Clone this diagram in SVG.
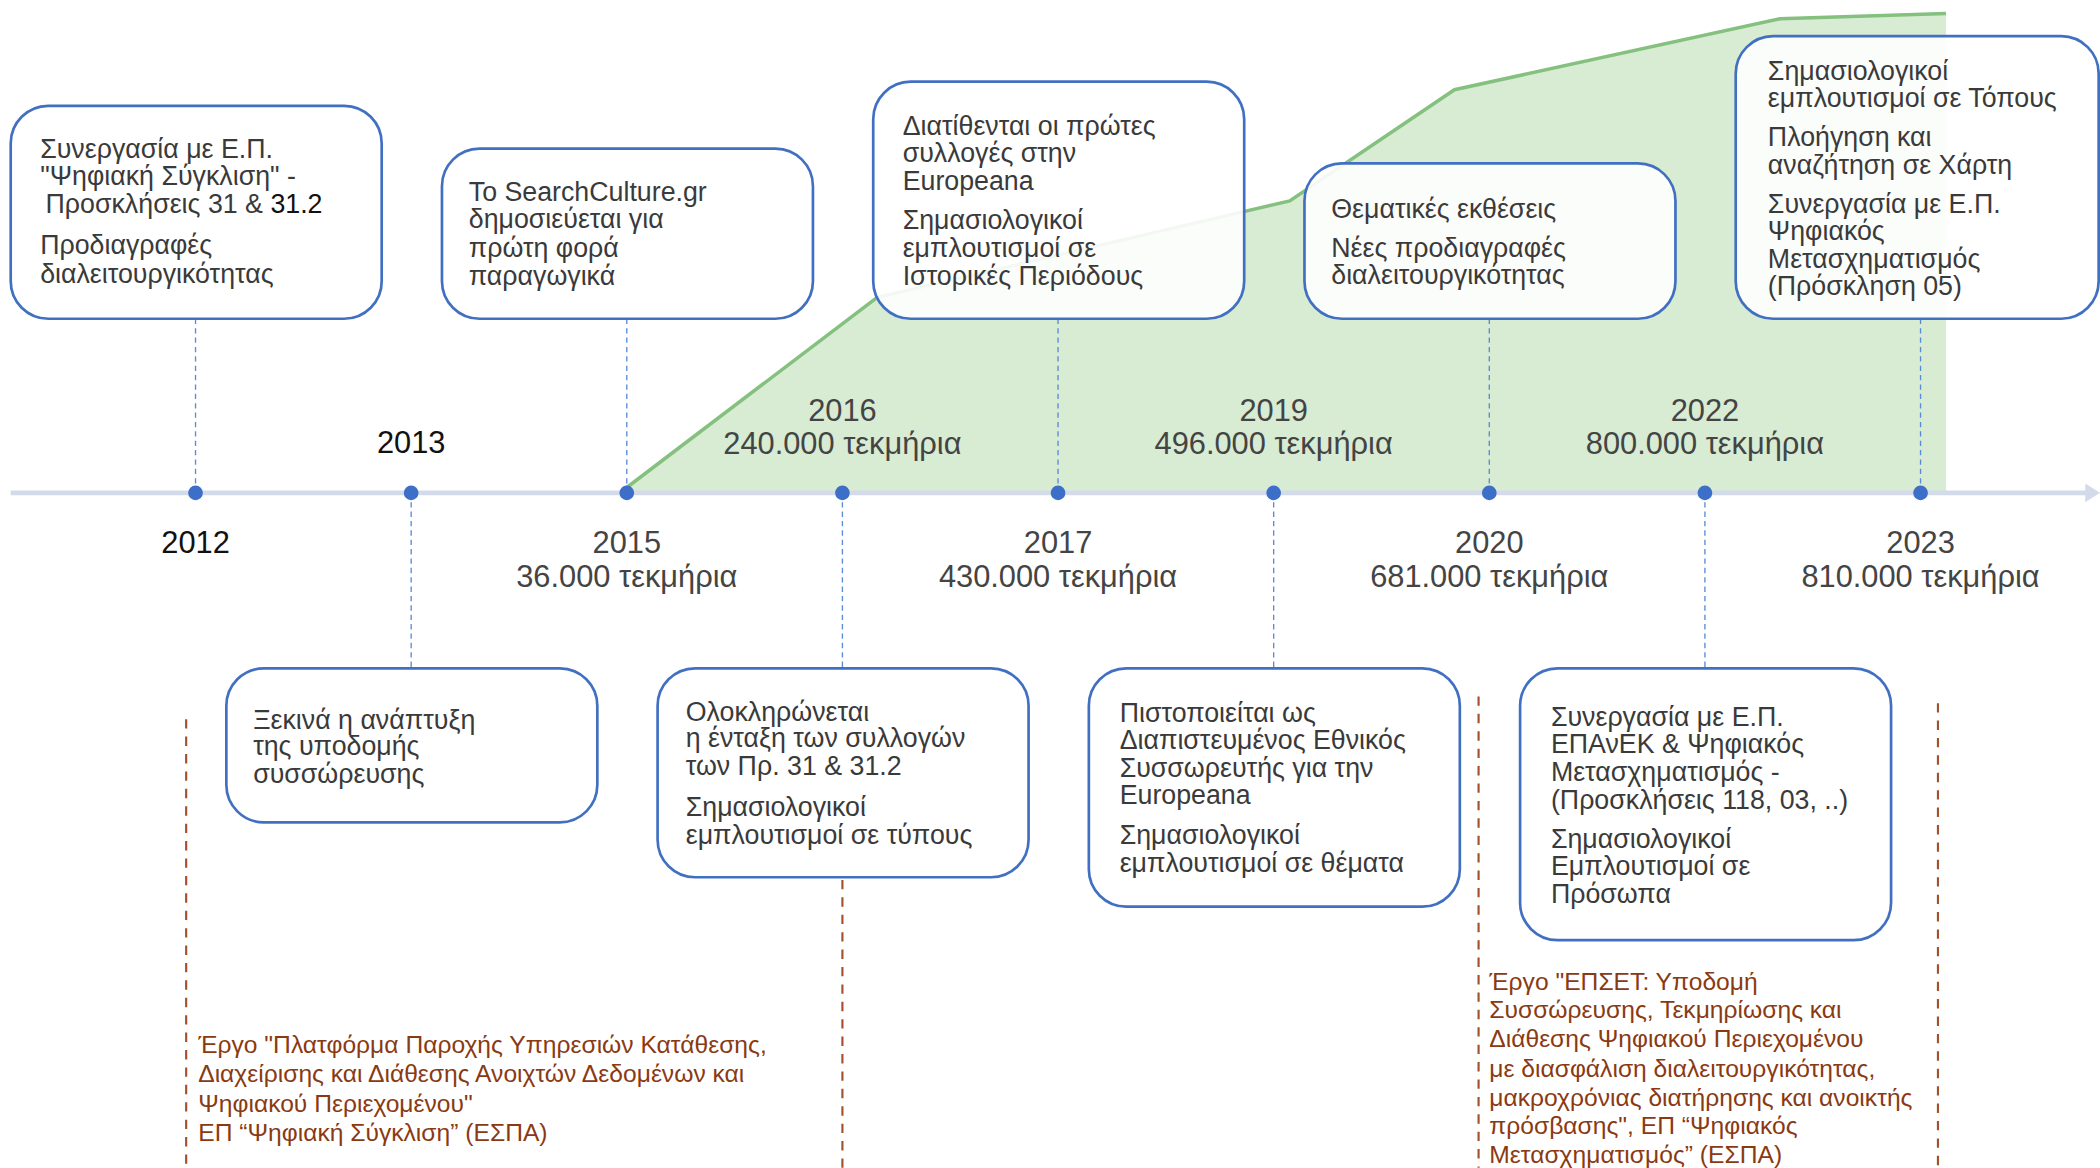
<svg xmlns="http://www.w3.org/2000/svg" width="2100" height="1168" viewBox="0 0 2100 1168">
<style>
.box{fill:#ffffff;fill-opacity:0.9;stroke:#4170c2;stroke-width:2}
.t{font-family:"Liberation Sans",Arial,sans-serif;font-size:20px;fill:#3a3a3a}
.y{font-family:"Liberation Sans",Arial,sans-serif;font-size:23px;fill:#444444;text-anchor:middle}
.yk{fill:#111111}
.b{font-family:"Liberation Sans",Arial,sans-serif;font-size:18.4px;fill:#8a3a12}
.dash{stroke:#5b8ad6;stroke-width:1;stroke-dasharray:4 3;fill:none}
.bd{stroke:#a0522d;stroke-width:1.6;stroke-dasharray:7 6;fill:none}
.dot{fill:#3d6fc8}
</style>
<rect width="2100" height="1168" fill="#ffffff"/>
<g transform="scale(1.33929)">
<g id="growth">
<polygon points="468,368 468,364 655,222 963,150 1086,67 1329,14 1453,10 1453,368" fill="#d8ebd3"/>
<polyline points="468,364 655,222 963,150 1086,67 1329,14 1453,10" fill="none" stroke="#84c07e" stroke-width="2.6"/>
</g>
<g id="axis">
<line x1="8" y1="368" x2="1558" y2="368" stroke="#d3dbea" stroke-width="3.5"/>
<polygon points="1557,361 1568,368 1557,375" fill="#d3dbea"/>
</g>
<g id="connectors">
<line class="dash" x1="146" y1="238" x2="146" y2="368"/>
<line class="dash" x1="468" y1="238" x2="468" y2="368"/>
<line class="dash" x1="790" y1="238" x2="790" y2="368"/>
<line class="dash" x1="1112" y1="238" x2="1112" y2="368"/>
<line class="dash" x1="1434" y1="238" x2="1434" y2="368"/>
<line class="dash" x1="307" y1="368" x2="307" y2="499"/>
<line class="dash" x1="629" y1="368" x2="629" y2="499"/>
<line class="dash" x1="951" y1="368" x2="951" y2="499"/>
<line class="dash" x1="1273" y1="368" x2="1273" y2="499"/>
<line class="bd" x1="139" y1="537" x2="139" y2="872"/>
<line class="bd" x1="629" y1="657" x2="629" y2="872"/>
<line class="bd" x1="1104" y1="520" x2="1104" y2="872"/>
<line class="bd" x1="1447" y1="525" x2="1447" y2="872"/>
</g>
<g id="dots">
<circle class="dot" cx="146" cy="368" r="5.5"/>
<circle class="dot" cx="307" cy="368" r="5.5"/>
<circle class="dot" cx="468" cy="368" r="5.5"/>
<circle class="dot" cx="629" cy="368" r="5.5"/>
<circle class="dot" cx="790" cy="368" r="5.5"/>
<circle class="dot" cx="951" cy="368" r="5.5"/>
<circle class="dot" cx="1112" cy="368" r="5.5"/>
<circle class="dot" cx="1273" cy="368" r="5.5"/>
<circle class="dot" cx="1434" cy="368" r="5.5"/>
</g>
<g id="years">
<text class="y yk" x="307" y="338">2013</text>
<text class="y" x="629" y="314">2016</text>
<text class="y" x="629" y="339">240.000 τεκμήρια</text>
<text class="y" x="951" y="314">2019</text>
<text class="y" x="951" y="339">496.000 τεκμήρια</text>
<text class="y" x="1273" y="314">2022</text>
<text class="y" x="1273" y="339">800.000 τεκμήρια</text>
<text class="y yk" x="146" y="413">2012</text>
<text class="y" x="468" y="413">2015</text>
<text class="y" x="468" y="438">36.000 τεκμήρια</text>
<text class="y" x="790" y="413">2017</text>
<text class="y" x="790" y="438">430.000 τεκμήρια</text>
<text class="y" x="1112" y="413">2020</text>
<text class="y" x="1112" y="438">681.000 τεκμήρια</text>
<text class="y" x="1434" y="413">2023</text>
<text class="y" x="1434" y="438">810.000 τεκμήρια</text>
</g>
<g id="n2012">
<rect class="box" x="8" y="79" width="277" height="159" rx="28"/>
<text class="t" x="30" y="118">Συνεργασία με Ε.Π.</text>
<text class="t" x="30" y="138">"Ψηφιακή Σύγκλιση" -</text>
<text class="t" x="34" y="159">Προσκλήσεις 31 &amp; <tspan fill="#111111">31.2</tspan></text>
<text class="t" x="30" y="190">Προδιαγραφές</text>
<text class="t" x="30" y="211">διαλειτουργικότητας</text>
</g>
<g id="n2015">
<rect class="box" x="330" y="111" width="277" height="127" rx="28"/>
<text class="t" x="350" y="150">To SearchCulture.gr</text>
<text class="t" x="350" y="170">δημοσιεύεται για</text>
<text class="t" x="350" y="192">πρώτη φορά</text>
<text class="t" x="350" y="213">παραγωγικά</text>
</g>
<g id="n2017">
<rect class="box" x="652" y="61" width="277" height="177" rx="28"/>
<text class="t" x="674" y="101">Διατίθενται οι πρώτες</text>
<text class="t" x="674" y="121">συλλογές στην</text>
<text class="t" x="674" y="142">Europeana</text>
<text class="t" x="674" y="171">Σημασιολογικοί</text>
<text class="t" x="674" y="192">εμπλουτισμοί σε</text>
<text class="t" x="674" y="213">Ιστορικές Περιόδους</text>
</g>
<g id="n2020">
<rect class="box" x="974" y="122" width="277" height="116" rx="28"/>
<text class="t" x="994" y="163">Θεματικές εκθέσεις</text>
<text class="t" x="994" y="192">Νέες προδιαγραφές</text>
<text class="t" x="994" y="212">διαλειτουργικότητας</text>
</g>
<g id="n2023">
<rect class="box" x="1296" y="27" width="271" height="211" rx="28"/>
<text class="t" x="1320" y="60">Σημασιολογικοί</text>
<text class="t" x="1320" y="80">εμπλουτισμοί σε Τόπους</text>
<text class="t" x="1320" y="109">Πλοήγηση και</text>
<text class="t" x="1320" y="130">αναζήτηση σε Χάρτη</text>
<text class="t" x="1320" y="159">Συνεργασία με Ε.Π.</text>
<text class="t" x="1320" y="179">Ψηφιακός</text>
<text class="t" x="1320" y="200">Μετασχηματισμός</text>
<text class="t" x="1320" y="220">(Πρόσκληση 05)</text>
</g>
<g id="n2013">
<rect class="box" x="169" y="499" width="277" height="115" rx="28"/>
<text class="t" x="189" y="544">Ξεκινά η ανάπτυξη</text>
<text class="t" x="189" y="564">της υποδομής</text>
<text class="t" x="189" y="585">συσσώρευσης</text>
</g>
<g id="n2016">
<rect class="box" x="491" y="499" width="277" height="156" rx="28"/>
<text class="t" x="512" y="538">Ολοκληρώνεται</text>
<text class="t" x="512" y="558">η ένταξη των συλλογών</text>
<text class="t" x="512" y="579">των Πρ. 31 &amp; 31.2</text>
<text class="t" x="512" y="609">Σημασιολογικοί</text>
<text class="t" x="512" y="630">εμπλουτισμοί σε τύπους</text>
</g>
<g id="n2019">
<rect class="box" x="813" y="499" width="277" height="178" rx="28"/>
<text class="t" x="836" y="539">Πιστοποιείται ως</text>
<text class="t" x="836" y="559">Διαπιστευμένος Εθνικός</text>
<text class="t" x="836" y="580">Συσσωρευτής για την</text>
<text class="t" x="836" y="600">Europeana</text>
<text class="t" x="836" y="630">Σημασιολογικοί</text>
<text class="t" x="836" y="651">εμπλουτισμοί σε θέματα</text>
</g>
<g id="n2022">
<rect class="box" x="1135" y="499" width="277" height="203" rx="28"/>
<text class="t" x="1158" y="542">Συνεργασία με Ε.Π.</text>
<text class="t" x="1158" y="562">ΕΠΑνΕΚ &amp; Ψηφιακός</text>
<text class="t" x="1158" y="583">Μετασχηματισμός -</text>
<text class="t" x="1158" y="604">(Προσκλήσεις 118, 03, ..)</text>
<text class="t" x="1158" y="633">Σημασιολογικοί</text>
<text class="t" x="1158" y="653">Εμπλουτισμοί σε</text>
<text class="t" x="1158" y="674">Πρόσωπα</text>
</g>
<g id="project1">
<text class="b" x="148" y="786">Έργο "Πλατφόρμα Παροχής Υπηρεσιών Κατάθεσης,</text>
<text class="b" x="148" y="808">Διαχείρισης και Διάθεσης Ανοιχτών Δεδομένων και</text>
<text class="b" x="148" y="830">Ψηφιακού Περιεχομένου"</text>
<text class="b" x="148" y="852">ΕΠ “Ψηφιακή Σύγκλιση” (ΕΣΠΑ)</text>
</g>
<g id="project2">
<text class="b" x="1112" y="739">Έργο "ΕΠΣΕΤ: Υποδομή</text>
<text class="b" x="1112" y="760">Συσσώρευσης, Τεκμηρίωσης και</text>
<text class="b" x="1112" y="782">Διάθεσης Ψηφιακού Περιεχομένου</text>
<text class="b" x="1112" y="804">με διασφάλιση διαλειτουργικότητας,</text>
<text class="b" x="1112" y="826">μακροχρόνιας διατήρησης και ανοικτής</text>
<text class="b" x="1112" y="847">πρόσβασης", ΕΠ “Ψηφιακός</text>
<text class="b" x="1112" y="868">Μετασχηματισμός” (ΕΣΠΑ)</text>
</g>
</g>
</svg>
